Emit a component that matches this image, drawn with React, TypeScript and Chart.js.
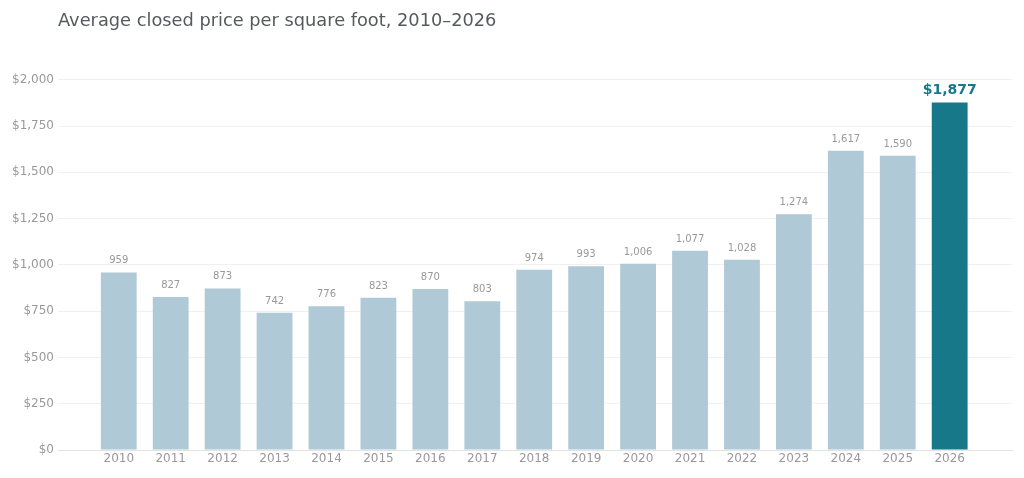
import React, { useEffect, useRef } from "react";
import { Chart, registerables } from "chart.js";

Chart.register(...registerables);

const years = [2010, 2011, 2012, 2013, 2014, 2015, 2016, 2017, 2018, 2019, 2020, 2021, 2022, 2023, 2024, 2025, 2026];
const prices = [959, 827, 873, 742, 776, 823, 870, 803, 974, 993, 1006, 1077, 1028, 1274, 1617, 1590, 1877];
const yTicks = [0, 250, 500, 750, 1000, 1250, 1500, 1750, 2000];
const titleText = "Average closed price per square foot, 2010–2026";

const FONT = "'DejaVu Sans', sans-serif";
const LIGHT = "#afcad6";
const DARK = "#17788a";

const fmt = (v: number) => v.toLocaleString("en-US");

const overlayPlugin = {
  id: "overlay",
  afterDatasetsDraw(chart: any) {
    const ctx = chart.ctx;
    const meta = chart.getDatasetMeta(0);
    ctx.save();
    ctx.textAlign = "center";
    ctx.textBaseline = "alphabetic";
    meta.data.forEach((bar: any, i: number) => {
      const last = i === prices.length - 1;
      if (last) {
        ctx.font = `bold 14px ${FONT}`;
        ctx.fillStyle = DARK;
        ctx.fillText("$" + fmt(prices[i]), bar.x, bar.y - 9);
      } else {
        ctx.font = `10px ${FONT}`;
        ctx.fillStyle = "#999999";
        ctx.fillText(fmt(prices[i]), bar.x, bar.y - 9);
      }
    });
    ctx.font = `17.8px ${FONT}`;
    ctx.fillStyle = "#555a5e";
    ctx.textAlign = "left";
    ctx.textBaseline = "middle";
    ctx.fillText(titleText, chart.chartArea.left, 21);
    ctx.restore();
  },
};

export default function App() {
  const ref = useRef<HTMLCanvasElement | null>(null);
  useEffect(() => {
    if (!ref.current) return;
    const chart = new Chart(ref.current, {
      type: "bar",
      data: {
        datasets: [
          {
            data: years.map((y, i) => ({ x: y, y: prices[i] })),
            backgroundColor: prices.map((_, i) => (i === prices.length - 1 ? DARK : LIGHT)),
            borderWidth: 0,
            barPercentage: 0.69,
            categoryPercentage: 1,
          },
        ],
      },
      options: {
        animation: false,
        responsive: false,
        maintainAspectRatio: false,
        layout: { padding: { top: 52, right: 12, left: 0, bottom: 0 } },
        plugins: { legend: { display: false }, tooltip: { enabled: false }, title: { display: false } },
        scales: {
          x: {
            type: "linear",
            offset: false,
            min: 2008.83,
            max: 2027.2,
            afterBuildTicks: (s: any) => {
              s.ticks = years.map((v) => ({ value: v }));
            },
            afterFit: (s: any) => {
              s.height = 28;
            },
            grid: { display: false, drawTicks: false },
            border: { display: true, color: "#e2e2e2", width: 1 },
            ticks: {
              autoSkip: false,
              maxRotation: 0,
              padding: 2,
              color: "#999999",
              font: { family: FONT, size: 12 },
              callback: (v: any) => String(v),
            },
          },
          y: {
            min: 0,
            max: 2150,
            afterBuildTicks: (s: any) => {
              s.ticks = yTicks.map((v) => ({ value: v }));
            },
            afterFit: (s: any) => {
              s.width = 58;
            },
            grid: { color: "#f0f0f0", drawTicks: false },
            border: { display: false },
            ticks: {
              padding: 4,
              color: "#999999",
              font: { family: FONT, size: 12 },
              callback: (v: any) => "$" + fmt(Number(v)),
            },
          },
        },
      },
      plugins: [overlayPlugin],
    } as any);
    return () => chart.destroy();
  }, []);
  return (
    <div style={{ position: "fixed", left: 0, top: 0, width: 1024, height: 478, background: "#fff" }}>
      <canvas ref={ref} width={1024} height={478} style={{ width: 1024, height: 478, display: "block" }} />
    </div>
  );
}
